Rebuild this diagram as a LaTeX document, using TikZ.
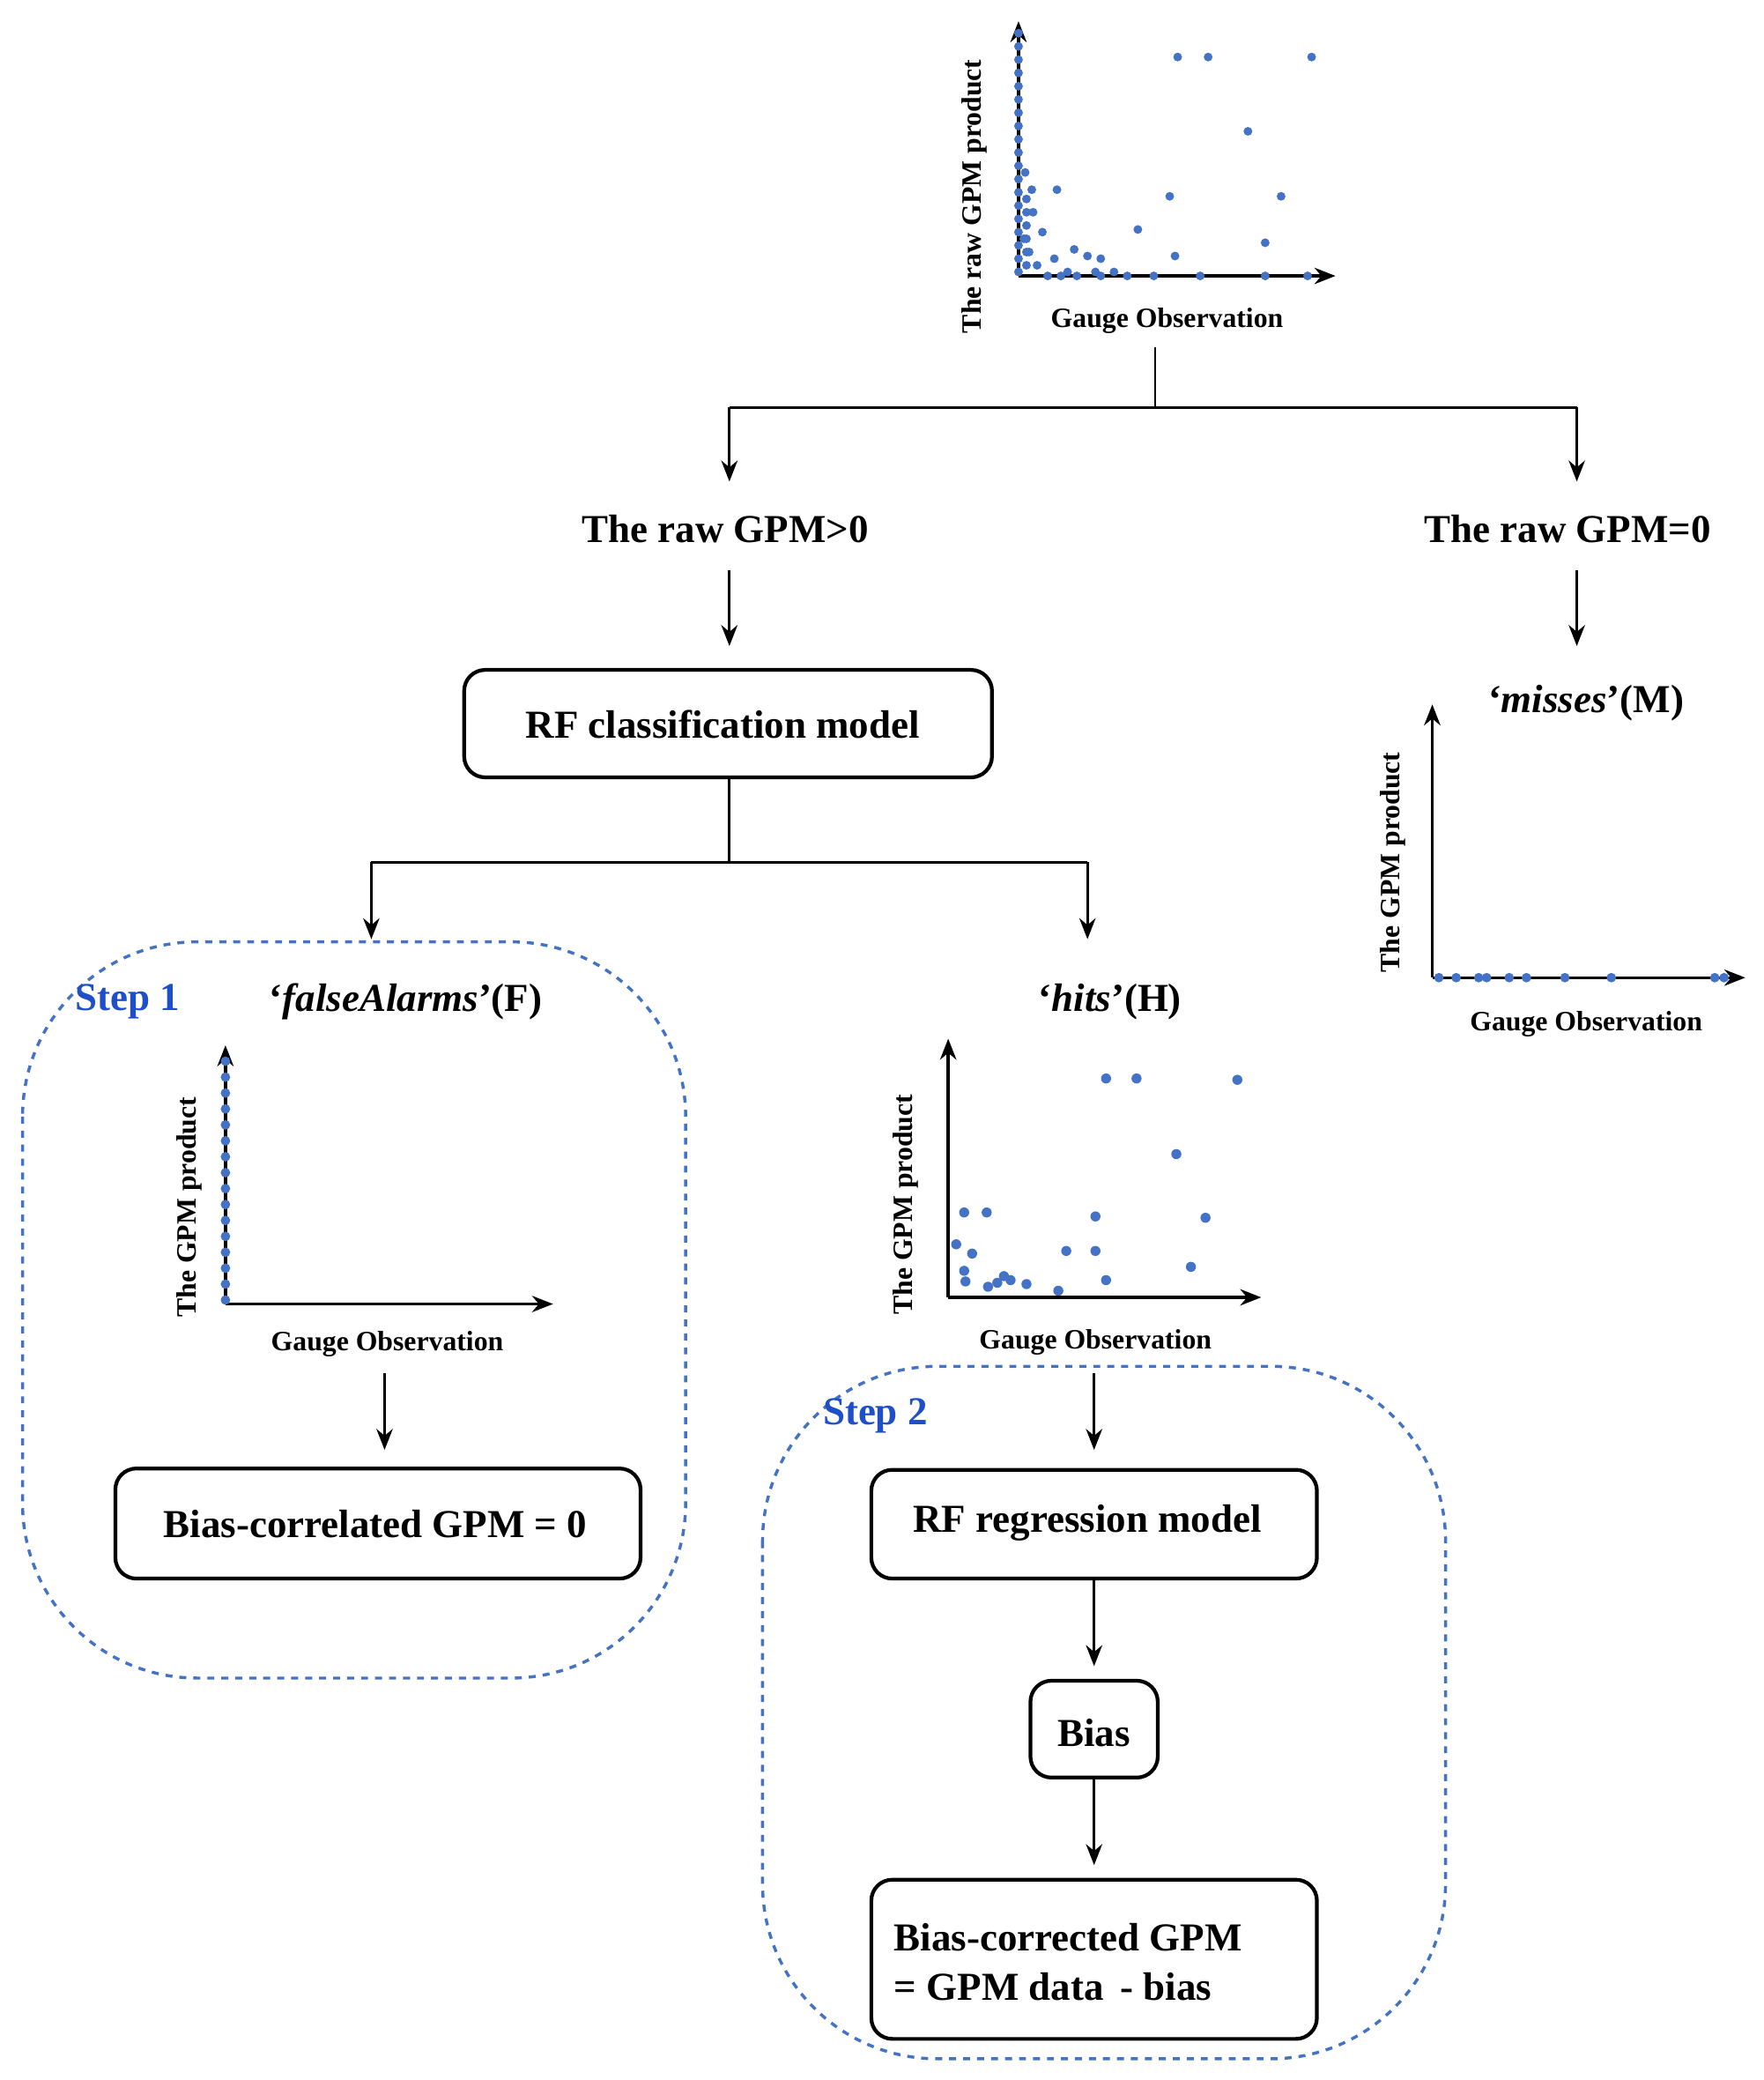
\documentclass[tikz,border=0pt]{standalone}
\usepackage{fontspec}
\setmainfont{Liberation Serif}
\usetikzlibrary{arrows.meta}
\definecolor{dot}{HTML}{4472C4}
\definecolor{stepc}{HTML}{1F4FC8}
\begin{document}
\begin{tikzpicture}[x=0.02cm,y=-0.02cm,
  arr/.style={-{Stealth[length=9pt,width=7pt]},line width=1.1pt},
  ln/.style={line width=1.1pt},
  bx/.style={line width=1.6pt,rounded corners=9pt},
  big/.style={font=\bfseries\fontsize{17}{21}\selectfont},
  ax/.style={font=\bfseries\fontsize{12}{14}\selectfont},
  dbox/.style={draw=dot,dashed,line width=1.3pt,rounded corners=75pt},
  d/.style={fill=dot,draw=none}]
\useasboundingbox (0,0) rectangle (1330,1568);
% dashed groups
\draw[dbox] (17,710) rectangle (517,1265);
\draw[dbox] (575,1030) rectangle (1090,1552);
% top plot
\coordinate (o1) at (768,208);
\draw[arr,line width=1.3pt] (o1) -- (1007,208);
\draw[arr,line width=1.3pt] (o1) -- (768,16);
\foreach \p in {(888,43),(911,43),(989,43),(941,99),(966,148),(882,148),(858,173),(886,193),(954,183),(797,143),(778,143),(773,130),(810,188),(820,193),(830,195),(840,205),(870,208),(905,208),(954,208),(986,208),(800,208),(790,208),(812,208),(826,205),(782,200),(776,190),(786,175),(779,160),(772,180),(795,195),(805,205),(830,208),(850,208)}
  \fill[d] \p circle (3.3);
\foreach \yy in {25,35,...,205} \fill[d] (768,\yy) circle (3.3);
\foreach \yy in {150,160,...,205} \fill[d] (774,\yy) circle (3.3);
\node[ax] (t1) at (880,242) {Gauge Observation};
\node[ax,rotate=90] (t2) at (735,148) {The raw GPM product};
% split 1
\coordinate (s1) at (871,262);
\coordinate (s2) at (871,307);
\coordinate (sl) at (550,307);
\coordinate (sr) at (1189,307);
\node[big] (gp) at (547,399) {The raw GPM>0};
\node[big] (gz) at (1182,399) {The raw GPM=0};
\draw[ln] (s1) -- (s2);
\draw[ln] (sl) -- (sr);
\draw[arr] (sl) -- (550,363);
\draw[arr] (sr) -- (1189,363);
\draw[arr] (550,430) -- (550,487);
\draw[arr] (1189,430) -- (1189,487);
% RF classification
\draw[bx] (350,505) rectangle (748,586);
\node[big] (rfct) at (545,546) {RF classification model};
\coordinate (c1) at (550,650);
\coordinate (cl) at (280,650);
\coordinate (cr) at (820,650);
\draw[ln] (550,586) -- (c1);
\draw[ln] (cl) -- (cr);
\draw[arr] (cl) -- (280,708);
\draw[arr] (cr) -- (820,708);
% misses
\node[big] (mt) at (1196,530) {‘\textit{misses}’(M)};
\draw[arr,line width=1.3pt] (1080,737) -- (1316,737);
\draw[arr,line width=1.3pt] (1080,737) -- (1080,531);
\foreach \xx in {1085,1098,1115,1121,1138,1151,1180,1215,1293,1300} \fill[d] (\xx,737) circle (3.6);
\node[ax] (mx) at (1196,772) {Gauge Observation};
\node[ax,rotate=90] (my) at (1050,650) {The GPM product};
% step1
\node[font=\bfseries\fontsize{17}{21}\selectfont,text=stepc] (st1) at (96,755) {Step 1};
\node[big] (ft) at (306,755) {‘\textit{falseAlarms}’(F)};
\draw[arr,line width=1.3pt] (170,983) -- (417,983);
\draw[arr,line width=1.3pt] (170,983) -- (170,788);
\foreach \yy in {800,812,...,980} \fill[d] (170,\yy) circle (3.6);
\node[ax] (fx) at (292,1013) {Gauge Observation};
\node[ax,rotate=90] (fy) at (143,910) {The GPM product};
\draw[arr] (290,1035) -- (290,1093);
\draw[bx] (87,1107) rectangle (483,1190);
\node[big] (bc0) at (283,1149) {Bias-correlated GPM = 0};
% hits
\node[big] (ht) at (837,755) {‘\textit{hits}’(H)};
\draw[arr,line width=1.3pt] (715,978) -- (951,978);
\draw[arr,line width=1.3pt] (715,978) -- (715,783);
\foreach \p in {(834,813),(857,813),(933,814),(887,870),(727,914),(744,914),(826,917),(909,918),(721,938),(733,945),(804,943),(826,943),(727,958),(757,962),(762,965),(774,968),(745,970),(728,966),(798,973),(834,965),(898,955),(752,967)}
  \fill[d] \p circle (3.8);
\node[ax] (hx) at (826,1012) {Gauge Observation};
\node[ax,rotate=90] (hy) at (683,908) {The GPM product};
% step 2
\node[font=\bfseries\fontsize{17}{21}\selectfont,text=stepc] (st2) at (660,1067) {Step 2};
\draw[arr] (825,1035) -- (825,1093);
\draw[bx] (657,1108) rectangle (993,1190);
\node[big] (rfr) at (820,1148) {RF regression model};
\draw[arr] (825,1190) -- (825,1256);
\draw[bx] (777,1267) rectangle (873,1340);
\node[big] (bias) at (825,1306) {Bias};
\draw[arr] (825,1340) -- (825,1406);
\draw[bx] (657,1417) rectangle (993,1537);
\node[big,align=left,anchor=west] (bcg) at (668,1479) {Bias-corrected GPM\\= GPM data \,- bias};
\end{tikzpicture}
\end{document}
